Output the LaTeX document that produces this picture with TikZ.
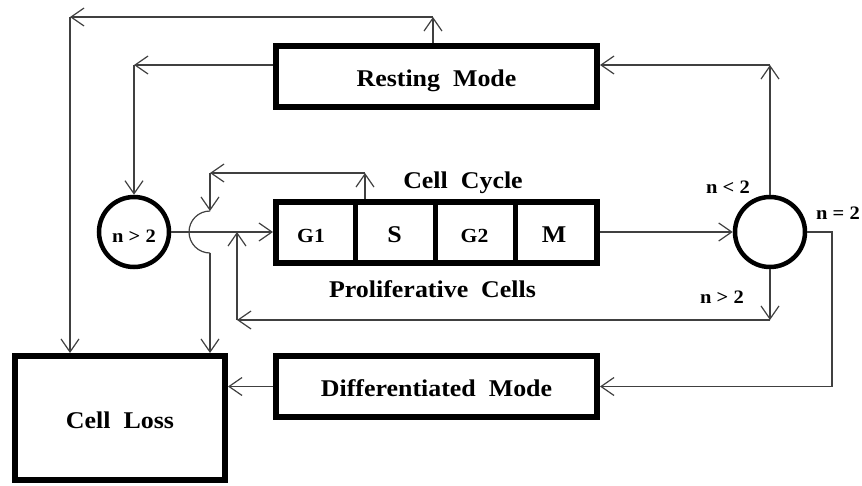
\documentclass[tikz,border=0pt]{standalone}
\usepackage{fontspec}
\setmainfont{Liberation Serif}[WordSpace=2, FakeStretch=1.08]
\newfontfamily\condfont{Liberation Serif}[FakeStretch=1.08]
\usetikzlibrary{arrows.meta,calc}

\begin{document}
\begin{tikzpicture}[x=1pt, y=-1pt,
  bigtxt/.style={font=\bfseries\fontsize{24}{28}\selectfont},
  smalltxt/.style={font=\condfont\bfseries\fontsize{19}{22}\selectfont},
  phasetxt/.style={font=\condfont\bfseries\fontsize{20}{24}\selectfont},
  box/.style={draw, line width=6pt, minimum width=321pt, minimum height=61pt,
              inner sep=0pt, text height=25pt, text depth=5pt, bigtxt},
  circ/.style={circle, draw, line width=4.5pt, minimum size=70pt, inner sep=0pt},
  lab/.style={anchor=base, inner sep=0pt, bigtxt},
  cond/.style={anchor=base, inner sep=0pt, smalltxt},
  wire/.style={line width=1.2pt, draw=black!75},
  arr/.style={wire, -{Straight Barb[length=13pt, width=18pt]}}
]
\useasboundingbox (0,0) rectangle (862,485);

% main compartments
\node[box] (rest) at (436.5,76.5) {Resting Mode};
\node[box] (diff) at (436.5,386.5) {Differentiated Mode};
\node[box, minimum width=210pt, minimum height=124pt] (loss) at (120,418) {Cell Loss};
\node[box] (cyc) at (436.5,232) {};

% phase dividers of the cell cycle
\foreach \x in {355,435,515}
  \draw[line width=5pt] (\x,201.5) -- (\x,262.5);

\node[lab, phasetxt] (g1) at (311,242) {G1};
\node[lab] (s) at (394.5,242) {S};
\node[lab, phasetxt] (g2) at (474.5,242) {G2};
\node[lab] (m) at (554,242) {M};

\node[lab] (cctitle) at (463,188) {Cell Cycle};
\node[lab] (prolif) at (432.5,297) {Proliferative Cells};

% decision circles
\node[circ, smalltxt, text height=20pt, text depth=0pt] (cl) at (134,232) {n > 2};
\node[circ] (cr) at (770,232) {};

\node[cond] (lt) at (728,193) {n < 2};
\node[cond] (eq) at (838,219) {n = 2};
\node[cond] (gt) at (722,303) {n > 2};

% corner points of the connectors
\coordinate (t0) at (70,17);
\coordinate (t1) at (433,17);
\coordinate (u0) at (134,65);
\coordinate (u1) at (770,65);
\coordinate (h0) at (210,173);
\coordinate (h1) at (365,173);
\coordinate (ht) at (210,211);
\coordinate (hb) at (210,253);
\coordinate (b0) at (237,320);
\coordinate (b1) at (770,320);
\coordinate (r0) at (832,232);

% resting mode -> cell loss
\draw[arr] (t1 |- rest.north) -- (t1);
\draw[arr] (t1) -- (t0);
\draw[arr] (t0) -- (t0 |- loss.north);

% resting mode -> n > 2 check
\draw[arr] (u0 -| rest.west) -- (u0);
\draw[arr] (u0) -- (cl.north);

% n < 2 -> resting mode
\draw[arr] (cr.north) -- (u1);
\draw[arr] (u1) -- (u1 -| rest.east);

% through the cell cycle
\draw[arr] (cl.east) -- (cyc.west);
\draw[arr] (cyc.east) -- (cr.west);

% from S phase to cell loss, hopping over the G1 entry line
\draw[arr] (h1 |- cyc.north) -- (h1);
\draw[arr] (h1) -- (h0);
\draw[arr] (h0) -- (ht);
\draw[wire] (ht) arc[start angle=90, end angle=270, radius=21pt];
\draw[arr] (hb) -- (hb |- loss.north);

% n > 2 -> back into G1
\draw[arr] (cr.south) -- (b1);
\draw[arr] (b1) -- (b0);
\draw[arr] (b0) -- (b0 |- cl.east);

% n = 2 -> differentiated mode -> cell loss
\draw[arr] (cr.east) -- (r0) -- (r0 |- diff.east) -- (diff.east);
\draw[arr] (diff.west) -- (diff.west -| loss.east);
\end{tikzpicture}
\end{document}
